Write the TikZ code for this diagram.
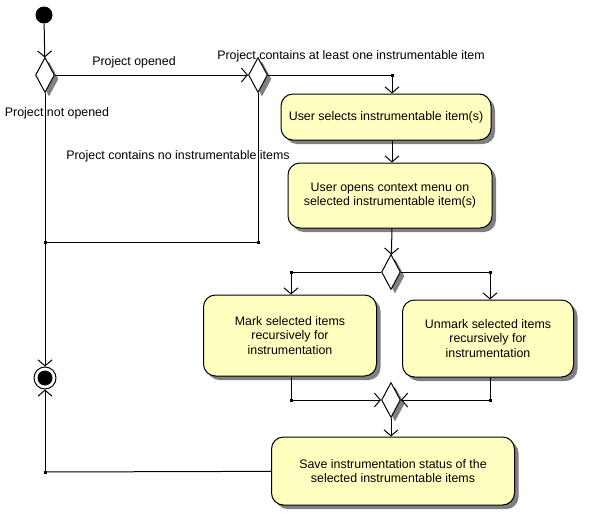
\documentclass[tikz,border=0pt]{standalone}
\usepackage{fontspec}
\setmainfont{Liberation Sans}
\usepackage{tikz}
\usetikzlibrary{arrows.meta,shapes.geometric,shadows}
\definecolor{actfill}{RGB}{255,255,192}
\definecolor{shade}{RGB}{128,128,128}
\tikzset{
	flow/.style={line width=1pt, -{Straight Barb[length=6pt,width=14pt,line width=1pt]}},
	wire/.style={line width=1pt},
	shade/.style={drop shadow={shadow xshift=4pt, shadow yshift=-4pt, fill=shade, opacity=1}},
	action/.style={draw, line width=1pt, fill=actfill, rounded corners=12pt, align=center, inner sep=0pt, shade},
	decision/.style={diamond, draw, line width=1pt, fill=white, minimum width=19pt, minimum height=35pt, inner sep=0pt, shade},
	startnode/.style={circle, fill=black, minimum size=17pt, inner sep=0pt},
	endnode/.style={circle, draw, line width=1pt, fill=white, minimum size=22pt, inner sep=0pt,
		path picture={\fill[black] (path picture bounding box.center) circle (7.5pt);}},
	lbl/.style={inner sep=0pt},
	dot/.style={fill=black, minimum size=3pt, inner sep=0pt}
}

\begin{document}
\begin{tikzpicture}[x=1pt, y=-1pt, font=\fontsize{12.4}{14.5}\selectfont]
		%%%%% START %%%%%
		\useasboundingbox (0, 0) rectangle (590, 520);
		
		\node[startnode] (start) at (44, 15) {};
		\node[decision] (opened) at (45, 75) {};
		\node[decision] (items) at (258, 75) {};
		
		\node[action, minimum width=210pt, minimum height=46pt] (select) at (386, 117) {User selects instrumentable item(s)};
		\node[action, minimum width=204pt, minimum height=65pt] (menu) at (390, 195.5) {User opens context menu on\\selected instrumentable item(s)};
		\node[decision] (choice) at (391, 272) {};
		\node[action, minimum width=173pt, minimum height=81pt] (mark) at (290, 335.5) {Mark selected items\\recursively for\\instrumentation};
		\node[action, minimum width=171pt, minimum height=77pt] (unmark) at (488, 338.5) {Unmark selected items\\recursively for\\instrumentation};
		\node[decision] (merge) at (391, 400) {};
		\node[action, minimum width=243pt, minimum height=68pt] (save) at (393, 471) {Save instrumentation status of the\\selected instrumentable items};
		\node[endnode] (final) at (45, 378) {};
		
		% junction points
		\coordinate (jsel) at (392, 75);
		\coordinate (jnone) at (258, 242);
		\coordinate (jleft) at (45, 242);
		\coordinate (jmark) at (291, 272);
		\coordinate (junmark) at (490, 272);
		\coordinate (jmarkb) at (291, 400);
		\coordinate (junmarkb) at (490, 400);
		\coordinate (jsave) at (45, 472);
		
		\draw[flow] (start) -- (opened);
		\draw[flow] (opened) -- (items);
		\draw[wire] (items) -- (jsel);
		\draw[flow] (jsel) -- (jsel |- select.north);
		\draw[flow] (jsel |- select.south) -- (jsel |- menu.north);
		\draw[flow] (jsel |- menu.south) -- (choice);
		
		\draw[wire] (choice) -- (jmark);
		\draw[flow] (jmark) -- (jmark |- mark.north);
		\draw[wire] (choice) -- (junmark);
		\draw[flow] (junmark) -- (junmark |- unmark.north);
		
		\draw[wire] (jmark |- mark.south) -- (jmarkb);
		\draw[flow] (jmarkb) -- (merge);
		\draw[wire] (junmark |- unmark.south) -- (junmarkb);
		\draw[flow] (junmarkb) -- (merge);
		\draw[flow] (merge) -- (merge |- save.north);
		
		\draw[wire] (items) -- (jnone) -- (jleft);
		\draw[flow] (opened) -- (final);
		\draw[wire] (save) -- (jsave);
		\draw[flow] (jsave) -- (final);
		
		\foreach \j in {jsel,jnone,jleft,jmark,junmark,jmarkb,junmarkb,jsave}
			\node[dot] at (\j) {};
		
		% guard labels
		\node[lbl] (lopened) at (134, 62) {Project opened};
		\node[lbl] (lsome) at (351, 56) {Project contains at least one instrumentable item};
		\node[lbl] (lnot) at (57, 113) {Project not opened};
		\node[lbl] (lnone) at (178, 156) {Project contains no instrumentable items};
		
		%%%%% END %%%%%
	\end{tikzpicture}
\end{document}
